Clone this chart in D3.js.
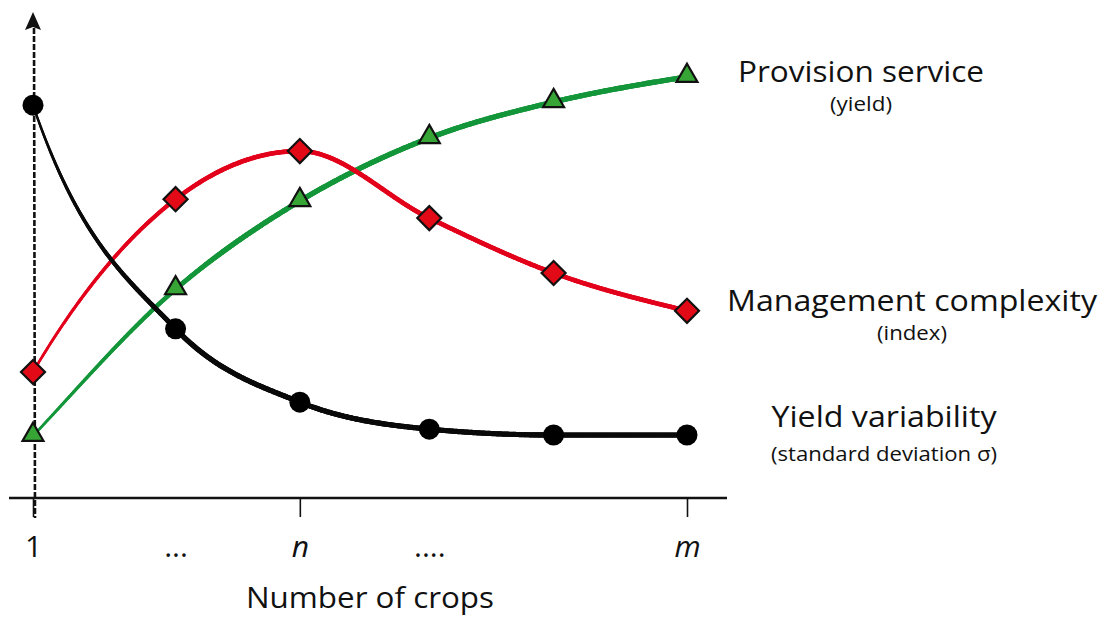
<!DOCTYPE html>
<html>
<head>
<meta charset="utf-8">
<script src="https://cdn.jsdelivr.net/npm/d3@7/dist/d3.min.js"></script>
<style>
  html, body { margin: 0; padding: 0; background: #fff; }
  svg { display: block; font-family: "Open Sans", "Noto Sans", sans-serif; }
</style>
</head>
<body>
<svg id="chart" width="1105" height="618"></svg>
<script>
// Positions along the crop-count axis (1 … n … m)
const cropSteps = [1, 2.09, 3.04, 4.03, 4.98, 6];
const tickValues = [1, 2.09, 3.04, 4.03, 6];
const tickLabels = ["1", "...", "n", "....", "m"];
const majorTicks = [1, 3.04, 6];

// Relative levels of each indicator (0–100)
const yieldVariability = [87.3, 37.6, 21.3, 15.3, 14.0, 14.0];
const managementComplexity = [28.0, 66.4, 77.1, 62.2, 50.0, 41.6];
const provisionService = [13.8, 46.4, 66.0, 80.0, 88.0, 93.6];

const seriesNames = ["Yield variability", "Management complexity", "Provision service"];
const seriesNotes = ["(standard deviation σ)", "(index)", "(yield)"];

const svg = d3.select("#chart");

const x = d3.scaleLinear().domain([1, 6]).range([33, 687]);
const y = d3.scaleLinear().domain([0, 100]).range([498, 48]);

// Monotone cubic Hermite curve; `bend` sets how sharply the first
// segment leaves its starting point (0 = straight secant)
function curveHermite(bend) {
  return function(context) {
    let xs, ys;
    return {
      areaStart() {}, areaEnd() {},
      lineStart() { xs = []; ys = []; },
      point(px, py) { xs.push(+px); ys.push(+py); },
      lineEnd() {
        const n = xs.length;
        if (!n) return;
        context.moveTo(xs[0], ys[0]);
        if (n < 2) return;
        const h = [], s = [];
        for (let i = 0; i < n - 1; i++) {
          h.push(xs[i + 1] - xs[i]);
          s.push((ys[i + 1] - ys[i]) / h[i]);
        }
        const t = new Array(n).fill(0);
        for (let i = 1; i < n - 1; i++) {
          const s0 = s[i - 1], s1 = s[i];
          const p = (s0 * h[i] + s1 * h[i - 1]) / (h[i - 1] + h[i]);
          t[i] = (Math.sign(s0) + Math.sign(s1)) *
            Math.min(Math.abs(s0), Math.abs(s1), 0.5 * Math.abs(p)) || 0;
        }
        t[0] = n > 2 ? s[0] + bend * (s[0] - t[1]) : s[0];
        t[n - 1] = n > 2 ? (3 * s[n - 2] - t[n - 2]) / 2 : s[n - 2];
        for (let i = 0; i < n - 1; i++) {
          const d = h[i] / 3;
          context.bezierCurveTo(
            xs[i] + d, ys[i] + t[i] * d,
            xs[i + 1] - d, ys[i + 1] - t[i + 1] * d,
            xs[i + 1], ys[i + 1]);
        }
      }
    };
  };
}

// ---- axes ----
const axisY = 498;

// vertical hand-drawn style axis with arrow head
svg.append("line")
  .attr("x1", 34).attr("x2", 35)
  .attr("y1", 28).attr("y2", 518)
  .attr("stroke", "#111").attr("stroke-width", 2.6)
  .attr("stroke-dasharray", "6,2");
svg.append("path")
  .attr("d", "M33,12 L25,30 L33,27 L41,30 Z")
  .attr("fill", "#111");

// horizontal axis
svg.append("line")
  .attr("x1", 9).attr("x2", 727)
  .attr("y1", axisY).attr("y2", axisY)
  .attr("stroke", "#111").attr("stroke-width", 2.4);

const xAxis = d3.axisBottom(x)
  .tickValues(tickValues)
  .tickSize(19)
  .tickPadding(20)
  .tickFormat((d, i) => tickLabels[i]);

const gx = svg.append("g")
  .attr("transform", `translate(0,${axisY})`)
  .call(xAxis);
gx.select(".domain").remove();
gx.selectAll(".tick line")
  .attr("stroke", "#111").attr("stroke-width", 1.6)
  .attr("opacity", d => majorTicks.includes(d) ? 1 : 0);
gx.selectAll(".tick text")
  .attr("fill", "#111")
  .attr("font-family", "'Open Sans', sans-serif")
  .attr("font-size", 30)
  .attr("dy", "0.0em")
  .attr("y", 59)
  .attr("font-style", (d, i) => (tickLabels[i] === "n" || tickLabels[i] === "m") ? "italic" : "normal");

svg.append("text")
  .attr("x", 370).attr("y", 608)
  .attr("text-anchor", "middle")
  .attr("font-size", 30)
  .attr("textLength", 248).attr("lengthAdjust", "spacingAndGlyphs")
  .attr("fill", "#111")
  .text("Number of crops");

// ---- curves ----
const series = [
  { values: provisionService, stroke: "#14963a", fill: "#36a535", w0: 2.5, width: 5.2, shape: "triangle", bend: 0.2 },
  { values: managementComplexity, stroke: "#e3001b", fill: "#e20a16", w0: 2.5, width: 4.6, shape: "diamond", bend: 1.1 },
  { values: yieldVariability, stroke: "#0a0a0a", fill: "#000", w0: 2.2, width: 5.2, shape: "circle", bend: 2.6 }
];

// Each curve is drawn as a brush stroke that swells from a thin start
series.forEach(s => {
  const line = d3.line()
    .x((d, i) => x(cropSteps[i]))
    .y(d => y(d))
    .curve(curveHermite(s.bend));
  const guide = svg.append("path")
    .datum(s.values)
    .attr("d", line)
    .attr("fill", "none")
    .attr("stroke", "none");
  const node = guide.node();
  const total = node.getTotalLength();
  const step = 1.5;
  const g = svg.append("g");
  let prev = node.getPointAtLength(0);
  for (let l = step; l <= total + step; l += step) {
    const p = node.getPointAtLength(Math.min(l, total));
    const t = Math.min(1, l / (total * 0.35));
    const w = s.w0 + (s.width - s.w0) * t;
    g.append("line")
      .attr("x1", prev.x).attr("y1", prev.y)
      .attr("x2", p.x).attr("y2", p.y)
      .attr("stroke", s.stroke)
      .attr("stroke-width", w)
      .attr("stroke-linecap", "round");
    prev = p;
  }
  guide.remove();
});

// ---- markers ----
const symbolFor = {
  circle: d3.symbol().type(d3.symbolCircle).size(Math.PI * 10.5 * 10.5),
  diamond: d3.symbol().type(d3.symbolSquare).size(17 * 17),
  triangle: d3.symbol().type(d3.symbolTriangle).size(190)
};

series.forEach(s => {
  svg.append("g").selectAll("path")
    .data(s.values)
    .join("path")
    .attr("d", symbolFor[s.shape])
    .attr("transform", (d, i) => {
      const px = x(cropSteps[i]), py = y(d);
      if (s.shape === "diamond") return `translate(${px},${py}) rotate(45)`;
      if (s.shape === "triangle") return `translate(${px},${py - 1})`;
      return `translate(${px},${py})`;
    })
    .attr("fill", s.fill)
    .attr("stroke", s.shape === "circle" ? "none" : "#111")
    .attr("stroke-width", 2.2)
    .attr("stroke-linejoin", "miter");
});

// ---- series labels ----
const labels = [
  { name: seriesNames[2], note: seriesNotes[2], cx: 861, y1: 82, y2: 111, w1: 246, w2: 62 },
  { name: seriesNames[1], note: seriesNotes[1], cx: 912, y1: 311, y2: 340, w1: 370, w2: 70 },
  { name: seriesNames[0], note: seriesNotes[0], cx: 884, y1: 427, y2: 461, w1: 225, w2: 226 }
];

labels.forEach(l => {
  svg.append("text")
    .attr("x", l.cx).attr("y", l.y1)
    .attr("text-anchor", "middle")
    .attr("font-size", 30)
    .attr("textLength", l.w1).attr("lengthAdjust", "spacingAndGlyphs")
    .attr("fill", "#111")
    .text(l.name);
  svg.append("text")
    .attr("x", l.cx).attr("y", l.y2)
    .attr("text-anchor", "middle")
    .attr("font-size", 20)
    .attr("textLength", l.w2).attr("lengthAdjust", "spacingAndGlyphs")
    .attr("fill", "#111")
    .text(l.note);
});
</script>
</body>
</html>
